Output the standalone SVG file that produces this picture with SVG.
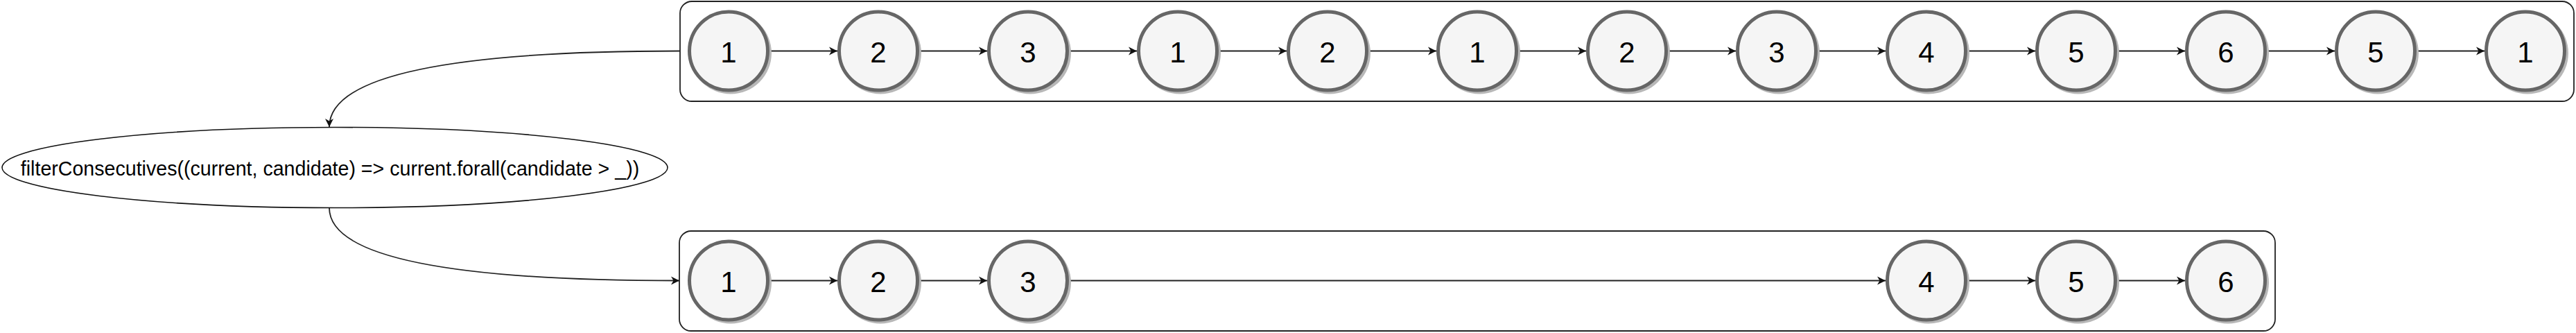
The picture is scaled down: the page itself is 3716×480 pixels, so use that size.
<svg xmlns="http://www.w3.org/2000/svg" width="3716" height="480" viewBox="0 0 3716 480">
<style>
.container{fill:#ffffff;stroke:#222222;stroke-width:1.8}
.shadow{fill:#b8b8b8}
.circ{fill:#f5f5f5;stroke:#666666;stroke-width:5}
.num{font-family:"Liberation Sans",Arial,sans-serif;font-size:42px;fill:#000000;text-anchor:middle}
.edge{fill:none;stroke:#222222;stroke-width:1.8}
.op{fill:#ffffff;stroke:#111111;stroke-width:1.6}
.optext{font-family:"Liberation Sans",Arial,sans-serif;font-size:28.6px;fill:#000000;text-anchor:middle}
</style>
<defs>
<marker id="arr" markerUnits="userSpaceOnUse" markerWidth="16" markerHeight="14" refX="12" refY="6" orient="auto" overflow="visible">
<path d="M0,0 L12,6 L0,12 L3.5,6 Z" fill="#111111" stroke="none"/>
</marker>
<g id="ball">
<circle class="shadow" cx="3" cy="3" r="59"/>
<circle class="circ" cx="0" cy="0" r="56.5"/>
</g>
</defs>

<g id="input-list">
<rect class="container" x="981" y="2" width="2732" height="144" rx="17" ry="17"/>
</g>
<g id="output-list">
<rect class="container" x="980" y="333" width="2302" height="144" rx="17" ry="17"/>
</g>

<g id="connectors">
<path class="edge" d="M981,73.5 Q475,73.5 475,183" marker-end="url(#arr)"/>
<path class="edge" d="M475,299.5 Q475,404.5 980,404.5" marker-end="url(#arr)"/>
<line class="edge" x1="1110" y1="73.5" x2="1208" y2="73.5" marker-end="url(#arr)"/>
<line class="edge" x1="1326" y1="73.5" x2="1424" y2="73.5" marker-end="url(#arr)"/>
<line class="edge" x1="1542" y1="73.5" x2="1640" y2="73.5" marker-end="url(#arr)"/>
<line class="edge" x1="1758" y1="73.5" x2="1856" y2="73.5" marker-end="url(#arr)"/>
<line class="edge" x1="1974" y1="73.5" x2="2072" y2="73.5" marker-end="url(#arr)"/>
<line class="edge" x1="2190" y1="73.5" x2="2288" y2="73.5" marker-end="url(#arr)"/>
<line class="edge" x1="2406" y1="73.5" x2="2504" y2="73.5" marker-end="url(#arr)"/>
<line class="edge" x1="2622" y1="73.5" x2="2720" y2="73.5" marker-end="url(#arr)"/>
<line class="edge" x1="2838" y1="73.5" x2="2936" y2="73.5" marker-end="url(#arr)"/>
<line class="edge" x1="3054" y1="73.5" x2="3152" y2="73.5" marker-end="url(#arr)"/>
<line class="edge" x1="3270" y1="73.5" x2="3368" y2="73.5" marker-end="url(#arr)"/>
<line class="edge" x1="3486" y1="73.5" x2="3584" y2="73.5" marker-end="url(#arr)"/>
<line class="edge" x1="1110" y1="404.5" x2="1208" y2="404.5" marker-end="url(#arr)"/>
<line class="edge" x1="1326" y1="404.5" x2="1424" y2="404.5" marker-end="url(#arr)"/>
<line class="edge" x1="1542" y1="404.5" x2="2720" y2="404.5" marker-end="url(#arr)"/>
<line class="edge" x1="2838" y1="404.5" x2="2936" y2="404.5" marker-end="url(#arr)"/>
<line class="edge" x1="3054" y1="404.5" x2="3152" y2="404.5" marker-end="url(#arr)"/>
</g>

<g id="filter-op">
<ellipse class="op" cx="483" cy="241.5" rx="480" ry="58"/>
<text class="optext" x="476" y="253">filterConsecutives((current, candidate) =&gt; current.forall(candidate &gt; _))</text>
</g>

<g id="in-0" transform="translate(1051,73.5)"><use href="#ball"/><text class="num" x="0" y="16.5">1</text></g>
<g id="in-1" transform="translate(1267,73.5)"><use href="#ball"/><text class="num" x="0" y="16.5">2</text></g>
<g id="in-2" transform="translate(1483,73.5)"><use href="#ball"/><text class="num" x="0" y="16.5">3</text></g>
<g id="in-3" transform="translate(1699,73.5)"><use href="#ball"/><text class="num" x="0" y="16.5">1</text></g>
<g id="in-4" transform="translate(1915,73.5)"><use href="#ball"/><text class="num" x="0" y="16.5">2</text></g>
<g id="in-5" transform="translate(2131,73.5)"><use href="#ball"/><text class="num" x="0" y="16.5">1</text></g>
<g id="in-6" transform="translate(2347,73.5)"><use href="#ball"/><text class="num" x="0" y="16.5">2</text></g>
<g id="in-7" transform="translate(2563,73.5)"><use href="#ball"/><text class="num" x="0" y="16.5">3</text></g>
<g id="in-8" transform="translate(2779,73.5)"><use href="#ball"/><text class="num" x="0" y="16.5">4</text></g>
<g id="in-9" transform="translate(2995,73.5)"><use href="#ball"/><text class="num" x="0" y="16.5">5</text></g>
<g id="in-10" transform="translate(3211,73.5)"><use href="#ball"/><text class="num" x="0" y="16.5">6</text></g>
<g id="in-11" transform="translate(3427,73.5)"><use href="#ball"/><text class="num" x="0" y="16.5">5</text></g>
<g id="in-12" transform="translate(3643,73.5)"><use href="#ball"/><text class="num" x="0" y="16.5">1</text></g>

<g id="out-0" transform="translate(1051,404.5)"><use href="#ball"/><text class="num" x="0" y="16.5">1</text></g>
<g id="out-1" transform="translate(1267,404.5)"><use href="#ball"/><text class="num" x="0" y="16.5">2</text></g>
<g id="out-2" transform="translate(1483,404.5)"><use href="#ball"/><text class="num" x="0" y="16.5">3</text></g>
<g id="out-3" transform="translate(2779,404.5)"><use href="#ball"/><text class="num" x="0" y="16.5">4</text></g>
<g id="out-4" transform="translate(2995,404.5)"><use href="#ball"/><text class="num" x="0" y="16.5">5</text></g>
<g id="out-5" transform="translate(3211,404.5)"><use href="#ball"/><text class="num" x="0" y="16.5">6</text></g>
</svg>
